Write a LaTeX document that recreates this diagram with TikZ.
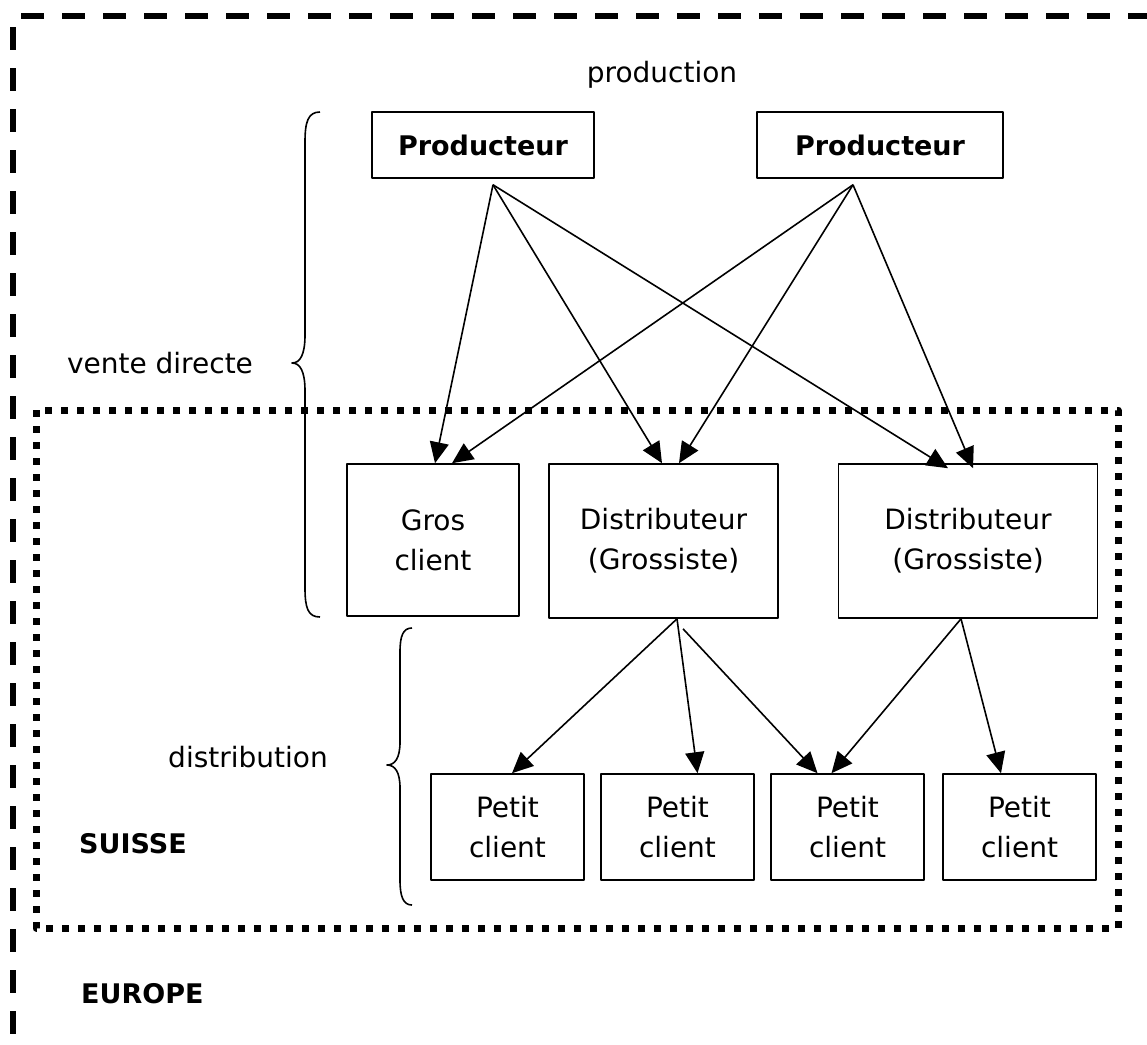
\documentclass[tikz,border=0pt]{standalone}
\usepackage{fontspec}
\setmainfont{DejaVu Sans}
\usetikzlibrary{arrows.meta}
\begin{document}
\begin{tikzpicture}[x=1pt,y=-1pt,line join=round,>={Triangle[length=21pt,width=19pt]},
	box/.style={draw,line width=1.6pt,inner sep=0pt,align=center,font=\fontsize{28}{40}\selectfont},
	lbl/.style={font=\fontsize{28}{34}\selectfont,inner sep=0pt},
	blbl/.style={font=\fontsize{27}{32}\selectfont\bfseries,inner sep=0pt},
	fl/.style={->,line width=1.6pt}]
	\useasboundingbox (0,0) rectangle (1147,1044);
	% Cadres Europe et Suisse
	\draw[line width=6pt,dash pattern=on 23pt off 18pt] (21,16) -- (1147,16);
	\draw[line width=6pt,dash pattern=on 23pt off 18pt] (13,27) -- (13,1044);
	\draw[line width=7pt,dash pattern=on 7pt off 9pt] (36,410) rectangle (1118,928);
	% Textes
	\node[lbl,anchor=base] (prod) at (662,82) {production};
	\node[lbl,anchor=base] (vente) at (160,373) {vente directe};
	\node[lbl,anchor=base] (distr) at (248,767) {distribution};
	\node[blbl,anchor=base west] (suisse) at (79,853) {SUISSE};
	\node[blbl,anchor=base west] (europe) at (81,1003) {EUROPE};
	% Accolades
	\draw[line width=1.6pt] (320,112) .. controls (308,112) and (305,122) .. (305,142) -- (305,335)
		.. controls (305,355) and (300,363) .. (292,363) .. controls (300,363) and (305,371) .. (305,391)
		-- (305,588) .. controls (305,608) and (308,617) .. (320,617);
	\draw[line width=1.6pt] (412,628) .. controls (403,628) and (400,636) .. (400,652) -- (400,742)
		.. controls (400,758) and (395,765) .. (387,765) .. controls (395,765) and (400,772) .. (400,788)
		-- (400,880) .. controls (400,896) and (403,905) .. (412,905);
	% Boites
	\node[box,minimum width=222pt,minimum height=66pt,font=\fontsize{27}{32}\selectfont\bfseries] (prodA) at (483,145) {Producteur};
	\node[box,minimum width=246pt,minimum height=66pt,font=\fontsize{27}{32}\selectfont\bfseries] (prodB) at (880,145) {Producteur};
	\node[box,minimum width=172pt,minimum height=152pt] (gros) at (433,540) {Gros\\client};
	\node[box,minimum width=229pt,minimum height=154pt] (distA) at (663.5,541) {Distributeur\\(Grossiste)};
	\node[box,minimum width=259pt,minimum height=154pt] (distB) at (968,541) {Distributeur\\(Grossiste)};
	\foreach \n/\x in {petitA/507.5,petitB/677.5,petitC/847.5,petitD/1019.5}{
		\node[box,minimum width=153pt,minimum height=106pt] (\n) at (\x,827) {Petit\\client};
	}
	% Points de depart et d'arrivee des fleches
	\path
	([shift={(10pt,-6pt)}]prodA.south) coordinate (sA)
	([shift={(-27pt,-6pt)}]prodB.south) coordinate (sB)
	([xshift=2pt]gros.north) coordinate (gros1)
	([xshift=19pt]gros.north) coordinate (gros2)
	([xshift=-1.5pt]distA.north) coordinate (distA1)
	([xshift=15.5pt]distA.north) coordinate (distA2)
	([shift={(-20pt,-5pt)}]distB.north) coordinate (distB1)
	([shift={(5pt,-5pt)}]distB.north) coordinate (distB2)
	([xshift=13.5pt]distA.south) coordinate (tA)
	([shift={(19.5pt,-10pt)}]distA.south) coordinate (tA2)
	([xshift=-7pt]distB.south) coordinate (tB)
	([xshift=4.5pt]petitA.north) coordinate (petitA1)
	([xshift=20pt]petitB.north) coordinate (petitB1)
	([xshift=-30pt]petitC.north) coordinate (petitC1)
	([xshift=-16pt]petitC.north) coordinate (petitC2)
	([xshift=-18.5pt]petitD.north) coordinate (petitD1);
	% Fleches
	\foreach \s/\t in {sA/gros1,sA/distA1,sA/distB1,sB/gros2,sB/distA2,sB/distB2,
		tA/petitA1,tA/petitB1,tA2/petitC1,tB/petitC2,tB/petitD1}{
		\draw[fl] (\s) -- (\t);
	}
\end{tikzpicture}
\end{document}
